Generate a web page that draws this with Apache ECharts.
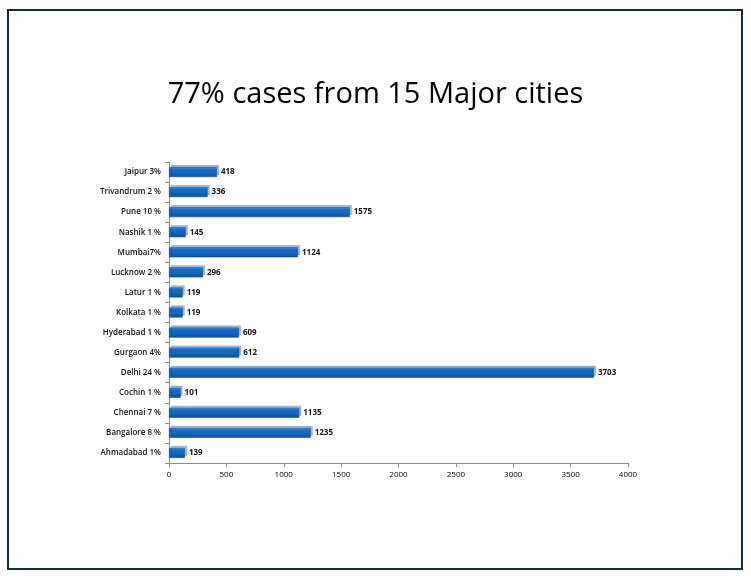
<!DOCTYPE html>
<html lang="en">
<head>
  <meta charset="UTF-8">
  <title>77% cases from 15 Major cities</title>
  <script src="https://cdn.jsdelivr.net/npm/echarts@6/dist/echarts.min.js"></script>
  <style>
    html, body { margin: 0; padding: 0; background: #fff; }
    #frame {
      position: absolute; left: 7px; top: 9px; width: 732px; height: 557px;
      border: 2px solid #0f2d45;
    }
    #chart { position: absolute; left: 0; top: 0; width: 751px; height: 579px; }
  </style>
</head>
<body>
<div id="frame"></div>
<div id="chart"></div>
<script>
  // 城市（从下到上）
  var cities = ['Ahmadabad 1%', 'Bangalore 8 %', 'Chennai 7 %', 'Cochin 1 %', 'Delhi 24 %',
    'Gurgaon 4%', 'Hyderabad 1 %', 'Kolkata 1 %', 'Latur 1 %', 'Lucknow 2 %',
    'Mumbai7%', 'Nashik 1 %', 'Pune 10 %', 'Trivandrum 2 %', 'Jaipur 3%'];
  // 病例数
  var cases = [139, 1235, 1135, 101, 3703, 612, 609, 119, 119, 296, 1124, 145, 1575, 336, 418];
  // x轴刻度
  var xTicks = [0, 500, 1000, 1500, 2000, 2500, 3000, 3500, 4000];

  var chart = echarts.init(document.getElementById('chart'));
  chart.setOption({
    animation: false,
    title: {
      text: '77% cases from 15 Major cities',
      left: 'center',
      top: 75,
      textStyle: { fontFamily: 'Open Sans', fontWeight: 'normal', fontSize: 29, color: '#000' }
    },
    grid: { left: 169, right: 123, top: 162, bottom: 116 },
    xAxis: {
      type: 'value',
      min: xTicks[0],
      max: xTicks[xTicks.length - 1],
      interval: xTicks[1] - xTicks[0],
      splitLine: { show: false },
      axisLine: { show: true, lineStyle: { color: '#8c8c8c' } },
      axisTick: { show: true, length: 4, lineStyle: { color: '#8c8c8c' } },
      axisLabel: {
        fontFamily: 'Open Sans', fontSize: 8, color: '#000', margin: 8,
        formatter: function (v) { return String(v); }
      }
    },
    yAxis: {
      type: 'category',
      data: cities,
      axisLine: { show: true, lineStyle: { color: '#8c8c8c' } },
      axisTick: { show: true, length: 4, lineStyle: { color: '#8c8c8c' } },
      axisLabel: { fontFamily: 'Open Sans', fontSize: 8, fontWeight: 600, color: '#111', margin: 8 }
    },
    series: [{
      type: 'bar',
      data: cases,
      barWidth: 10,
      itemStyle: {
        color: new echarts.graphic.LinearGradient(0, 0, 0, 1, [
          { offset: 0, color: '#5a9de0' },
          { offset: 0.2, color: '#1a6cc6' },
          { offset: 0.8, color: '#0d60b8' },
          { offset: 1, color: '#0a4d93' }
        ]),
        borderColor: '#0b4d8f',
        borderWidth: 0.6,
        shadowColor: 'rgba(10,60,120,0.35)',
        shadowOffsetX: 2,
        shadowOffsetY: -2
      },
      label: {
        show: true,
        position: 'right',
        distance: 4,
        fontFamily: 'Open Sans',
        fontSize: 8,
        fontWeight: 'bold',
        color: '#111'
      }
    }]
  });
</script>
</body>
</html>
